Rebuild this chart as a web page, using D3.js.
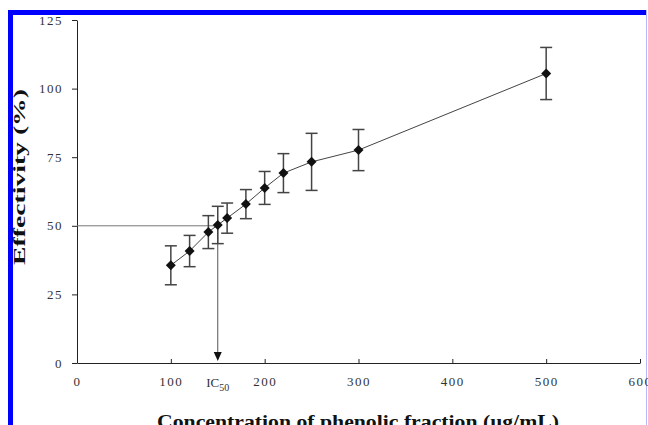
<!DOCTYPE html>
<html>
<head>
<meta charset="utf-8">
<script src="https://cdn.jsdelivr.net/npm/d3@7"></script>
<style>
  body { margin: 0; background: #fff; }
  svg { display: block; }
  .tick text { font-family: "Liberation Serif", serif; font-size: 13px; fill: #333; letter-spacing: 1.5px; }
  .title { font-family: "Liberation Serif", serif; font-weight: bold; fill: #111; }
</style>
</head>
<body>
<div id="chart"></div>
<script>
// concentration of phenolic fraction (ug/mL)
var conc = [100, 120, 140, 150, 160, 180, 200, 220, 250, 300, 500];
// effectivity (%)
var effect = [35.6, 40.8, 47.7, 50.3, 52.8, 57.9, 63.8, 69.2, 73.3, 77.6, 105.5];
// +/- error
var err = [7.1, 5.7, 6.0, 6.8, 5.5, 5.3, 6.0, 7.1, 10.4, 7.5, 9.5];

var xTicks = [0, 100, 200, 300, 400, 500, 600];
var yTicks = [0, 25, 50, 75, 100, 125];
var ic50 = 150, ic50Value = 50;

var width = 648, height = 425;
var margin = {left: 77, right: 8, top: 20, bottom: 62};

var data = conc.map(function(c, i) { return {x: c, y: effect[i], e: err[i]}; });

var xScale = d3.scaleLinear().domain([0, 600]).range([margin.left, width - margin.right]);
var yScale = d3.scaleLinear().domain([0, 125]).range([height - margin.bottom, margin.top]);

var svg = d3.select('#chart').append('svg')
    .attr('width', width)
    .attr('height', height);

// blue frame
svg.append('rect').attr('x', 8).attr('y', 10).attr('width', 638).attr('height', 5).attr('fill', '#0000ff');
svg.append('rect').attr('x', 8).attr('y', 10).attr('width', 5).attr('height', 415).attr('fill', '#0000ff');
svg.append('line').attr('x1', 646.5).attr('x2', 646.5).attr('y1', 10).attr('y2', 425)
    .attr('stroke', '#b8b8ff').attr('stroke-width', 1);

// axes
var xAxis = d3.axisBottom(xScale).tickValues(xTicks).tickSizeInner(-4).tickSizeOuter(0).tickPadding(14);
var yAxis = d3.axisLeft(yScale).tickValues(yTicks).tickSizeInner(5).tickSizeOuter(0).tickPadding(9);

var gx = svg.append('g')
    .attr('transform', 'translate(0,' + yScale(0) + ')')
    .call(xAxis);
var gy = svg.append('g')
    .attr('transform', 'translate(' + xScale(0) + ',0)')
    .call(yAxis);

[gx, gy].forEach(function(g) {
    g.select('.domain').attr('stroke', '#222');
    g.selectAll('.tick line').attr('stroke', '#222');
});

// IC50 label on x axis
var icText = svg.append('text')
    .attr('x', xScale(ic50))
    .attr('y', yScale(0) + 24)
    .attr('text-anchor', 'middle')
    .style('font-family', '"Liberation Serif", serif')
    .style('font-size', '13px')
    .style('fill', '#333');
icText.append('tspan').text('IC');
icText.append('tspan').attr('dy', 4).style('font-size', '10px').text('50');

// IC50 guide lines
svg.append('line')
    .attr('x1', xScale(0)).attr('x2', xScale(ic50))
    .attr('y1', yScale(ic50Value)).attr('y2', yScale(ic50Value))
    .attr('stroke', '#777').attr('stroke-width', 1);
svg.append('line')
    .attr('x1', xScale(ic50)).attr('x2', xScale(ic50))
    .attr('y1', yScale(ic50Value)).attr('y2', yScale(0) - 4)
    .attr('stroke', '#555').attr('stroke-width', 1);
svg.append('path')
    .attr('d', 'M' + (xScale(ic50) - 4) + ',' + (yScale(0) - 11) + 'L' + (xScale(ic50) + 4) + ',' + (yScale(0) - 11) + 'L' + xScale(ic50) + ',' + (yScale(0) - 2) + 'Z')
    .attr('fill', '#111');

// connecting line
var line = d3.line().x(function(d) { return xScale(d.x); }).y(function(d) { return yScale(d.y); });
svg.append('path')
    .datum(data)
    .attr('d', line)
    .attr('fill', 'none')
    .attr('stroke', '#444')
    .attr('stroke-width', 1);

// error bars
var eb = svg.append('g').selectAll('g').data(data).enter().append('g')
    .attr('stroke', '#444').attr('stroke-width', 1.5);
eb.append('line')
    .attr('x1', function(d) { return xScale(d.x); })
    .attr('x2', function(d) { return xScale(d.x); })
    .attr('y1', function(d) { return yScale(d.y + d.e); })
    .attr('y2', function(d) { return yScale(d.y - d.e); });
eb.append('line')
    .attr('x1', function(d) { return xScale(d.x) - 6; })
    .attr('x2', function(d) { return xScale(d.x) + 6; })
    .attr('y1', function(d) { return yScale(d.y + d.e); })
    .attr('y2', function(d) { return yScale(d.y + d.e); });
eb.append('line')
    .attr('x1', function(d) { return xScale(d.x) - 6; })
    .attr('x2', function(d) { return xScale(d.x) + 6; })
    .attr('y1', function(d) { return yScale(d.y - d.e); })
    .attr('y2', function(d) { return yScale(d.y - d.e); });

// diamond markers
svg.append('g').selectAll('path').data(data).enter().append('path')
    .attr('transform', function(d) { return 'translate(' + xScale(d.x) + ',' + yScale(d.y) + ')'; })
    .attr('d', 'M0,-5L5,0L0,5L-5,0Z')
    .attr('fill', '#111');

// titles
svg.append('text')
    .attr('class', 'title')
    .attr('x', 157)
    .attr('y', 428)
    .attr('textLength', 402)
    .attr('lengthAdjust', 'spacingAndGlyphs')
    .style('font-size', '19px')
    .text('Concentration of phenolic fraction (ug/mL)');

svg.append('text')
    .attr('class', 'title')
    .attr('transform', 'translate(25,265) rotate(-90)')
    .attr('textLength', 176)
    .attr('lengthAdjust', 'spacingAndGlyphs')
    .style('font-size', '17px')
    .text('Effectivity (%)');
</script>
</body>
</html>
